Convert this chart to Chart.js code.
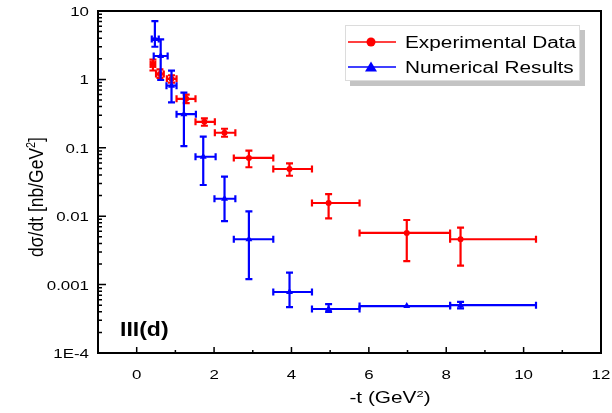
<!DOCTYPE html>
<html>
<head>
<meta charset="utf-8">
<script src="https://cdn.jsdelivr.net/npm/chart.js@4.4.0/dist/chart.umd.min.js"></script>
<style>
  html, body { margin: 0; padding: 0; background: #fff; }
  #wrap { width: 612px; height: 413px; }
</style>
</head>
<body>
<div id="wrap"><canvas id="c" width="612" height="413"></canvas></div>
<script>
// experimental points: -t bins (GeV^2) and dsigma/dt (nb/GeV^2)
const tExp     = [0.42, 0.60, 0.90, 1.28, 1.75, 2.27, 2.90, 3.95, 4.96, 6.98, 8.37];
const tExpLo   = [0.36, 0.50, 0.78, 1.03, 1.52, 2.02, 2.51, 3.53, 4.53, 5.76, 8.10];
const tExpHi   = [0.48, 0.70, 1.03, 1.52, 2.02, 2.55, 3.53, 4.53, 5.76, 8.10, 10.32];
const sigExp   = [1.65, 1.20, 1.02, 0.52, 0.24, 0.166, 0.071, 0.049, 0.0156, 0.0057, 0.0046];
const sigExpLo = [1.35, 1.05, 0.90, 0.45, 0.21, 0.145, 0.052, 0.039, 0.0093, 0.0022, 0.0019];
const sigExpHi = [1.95, 1.40, 1.15, 0.60, 0.27, 0.19, 0.091, 0.059, 0.021, 0.0088, 0.0068];

// numerical results on the same bins
const tNum     = [0.47, 0.62, 0.90, 1.22, 1.72, 2.27, 2.90, 3.95, 4.96, 6.98, 8.37];
const tNumLo   = [0.39, 0.44, 0.77, 1.03, 1.52, 2.01, 2.51, 3.53, 4.53, 5.76, 8.10];
const tNumHi   = [0.57, 0.80, 1.03, 1.53, 2.04, 2.55, 3.53, 4.53, 5.76, 8.10, 10.32];
const sigNum   = [3.9, 2.2, 0.81, 0.31, 0.074, 0.018, 0.0046, 0.00078, 0.00044, 0.000486, 0.0005];
const sigNumLo = [3.0, 0.98, 0.46, 0.106, 0.0286, 0.0085, 0.0012, 0.00047, 0.00040, 0.000486, 0.00045];
const sigNumHi = [7.1, 3.85, 1.34, 0.64, 0.146, 0.038, 0.0118, 0.0015, 0.00052, 0.000486, 0.00056];

const xTicks = [0, 2, 4, 6, 8, 10, 12];
const yTicks = [1e-4, 0.001, 0.01, 0.1, 1, 10];
const yTickLabels = ['1E-4', '0.001', '0.01', '0.1', '1', '10'];

const seriesNames = ['Experimental Data', 'Numerical Results'];
const RED = '#ff0000', BLUE = '#0000ff';
const FONT = '"Liberation Sans", Arial, sans-serif';

function points(x, xl, xh, y, yl, yh) {
  return x.map((v, i) => ({ x: v, y: y[i], xMin: xl[i], xMax: xh[i], yMin: yl[i], yMax: yh[i] }));
}

// text drawn with a horizontal stretch; parts may carry superscripts
function richText(ctx, parts, x, y, size, sx, align, bold) {
  ctx.save();
  ctx.translate(x, y);
  ctx.scale(sx, 1);
  ctx.fillStyle = '#000';
  ctx.textBaseline = 'alphabetic';
  ctx.textAlign = 'left';
  const w = parts.reduce((s, p) => {
    ctx.font = (bold ? 'bold ' : '') + (p.sup ? size * 0.62 : size) + 'px ' + FONT;
    return s + ctx.measureText(p.t).width;
  }, 0);
  let cx = align === 'center' ? -w / 2 : align === 'right' ? -w : 0;
  parts.forEach(p => {
    ctx.font = (bold ? 'bold ' : '') + (p.sup ? size * 0.62 : size) + 'px ' + FONT;
    ctx.fillText(p.t, cx, p.sup ? -size * 0.4 : 0);
    cx += ctx.measureText(p.t).width;
  });
  ctx.restore();
}

const errorBars = {
  id: 'errorBars',
  beforeDatasetDraw(chart, args) {
    const ctx = chart.ctx, xs = chart.scales.x, ys = chart.scales.y;
    const ds = chart.data.datasets[args.index];
    const cap = 3.5;
    ctx.save();
    ctx.strokeStyle = ds.borderColor;
    ctx.lineWidth = 2.2;
    ds.data.forEach(d => {
      const px = xs.getPixelForValue(d.x), py = ys.getPixelForValue(d.y);
      const x0 = xs.getPixelForValue(d.xMin), x1 = xs.getPixelForValue(d.xMax);
      const y0 = ys.getPixelForValue(d.yMin), y1 = ys.getPixelForValue(d.yMax);
      ctx.beginPath();
      ctx.moveTo(x0, py); ctx.lineTo(x1, py);
      ctx.moveTo(x0, py - cap); ctx.lineTo(x0, py + cap);
      ctx.moveTo(x1, py - cap); ctx.lineTo(x1, py + cap);
      if (Math.abs(y0 - y1) > 1) {
        ctx.moveTo(px, y0); ctx.lineTo(px, y1);
        ctx.moveTo(px - cap, y0); ctx.lineTo(px + cap, y0);
        ctx.moveTo(px - cap, y1); ctx.lineTo(px + cap, y1);
      }
      ctx.stroke();
    });
    ctx.restore();
  }
};

const decor = {
  id: 'decor',
  afterDraw(chart) {
    const ctx = chart.ctx, a = chart.chartArea;
    const xs = chart.scales.x, ys = chart.scales.y;
    ctx.save();
    ctx.strokeStyle = '#000';
    ctx.lineWidth = 2;
    ctx.strokeRect(a.left, a.top, a.right - a.left, a.bottom - a.top);

    // inward ticks
    ctx.lineWidth = 1.5;
    ctx.beginPath();
    xs.ticks.forEach(t => {
      const px = xs.getPixelForValue(t.value);
      ctx.moveTo(px, a.bottom); ctx.lineTo(px, a.bottom - 6);
      const m = xs.getPixelForValue(t.value - 1);
      if (m > a.left + 1) { ctx.moveTo(m, a.bottom); ctx.lineTo(m, a.bottom - 3); }
    });
    ys.ticks.forEach(t => {
      const py = ys.getPixelForValue(t.value);
      ctx.moveTo(a.left, py); ctx.lineTo(a.left + 8, py);
      if (t.value < 10) {
        for (let k = 2; k <= 9; k++) {
          const my = ys.getPixelForValue(t.value * k);
          ctx.moveTo(a.left, my); ctx.lineTo(a.left + 4, my);
        }
      }
    });
    ctx.stroke();

    // tick labels
    xs.ticks.forEach(t => {
      richText(ctx, [{ t: String(t.value) }], xs.getPixelForValue(t.value), 379, 13.5, 1.25, 'center');
    });
    ys.ticks.forEach((t, i) => {
      richText(ctx, [{ t: yTickLabels[i] }], 89, ys.getPixelForValue(t.value) + 5, 13.5, 1.25, 'right');
    });

    // axis titles
    richText(ctx, [{ t: '-t (GeV' }, { t: '2', sup: true }, { t: ')' }], 390, 403, 16, 1.3, 'center');
    ctx.save();
    ctx.translate(43, 197);
    ctx.rotate(-Math.PI / 2);
    ctx.scale(1, 1.15);
    richText(ctx, [{ t: 'd\u03c3/dt [nb/GeV' }, { t: '2', sup: true }, { t: ']' }], 0, 0, 17.5, 1, 'center');
    ctx.restore();

    // panel tag
    richText(ctx, [{ t: 'III(d)' }], 120, 336, 20, 1.15, 'left', true);

    // legend with drop shadow
    const lx = 345, ly = 25, lw = 235, lh = 56;
    ctx.fillStyle = '#c4c4c4';
    ctx.fillRect(lx + 5, ly + 5, lw, lh);
    ctx.fillStyle = '#fff';
    ctx.fillRect(lx, ly, lw, lh);
    ctx.strokeStyle = '#dcdcdc';
    ctx.lineWidth = 1;
    ctx.strokeRect(lx + 0.5, ly + 0.5, lw - 1, lh - 1);
    chart.data.datasets.forEach((ds, i) => {
      const ry = [42, 67][i];
      ctx.strokeStyle = ds.borderColor;
      ctx.lineWidth = 1.5;
      ctx.beginPath();
      ctx.moveTo(348, ry); ctx.lineTo(396, ry);
      ctx.stroke();
      ctx.fillStyle = ds.borderColor;
      ctx.beginPath();
      if (ds.pointStyle === 'circle') {
        ctx.arc(371, ry, 4.5, 0, Math.PI * 2);
      } else {
        ctx.moveTo(371, ry - 5.5); ctx.lineTo(377, ry + 4.5); ctx.lineTo(365, ry + 4.5); ctx.closePath();
      }
      ctx.fill();
      richText(ctx, [{ t: ds.label }], 405, ry + 6, 16, 1.3, 'left');
    });
    ctx.restore();
  }
};

new Chart(document.getElementById('c'), {
  type: 'scatter',
  data: {
    datasets: [
      {
        label: seriesNames[0],
        data: points(tExp, tExpLo, tExpHi, sigExp, sigExpLo, sigExpHi),
        borderColor: RED, backgroundColor: RED,
        pointStyle: 'circle', pointRadius: 3, pointBorderWidth: 0,
        order: 1
      },
      {
        label: seriesNames[1],
        data: points(tNum, tNumLo, tNumHi, sigNum, sigNumLo, sigNumHi),
        borderColor: BLUE, backgroundColor: BLUE,
        pointStyle: 'triangle', pointRadius: 4, pointBorderWidth: 0,
        order: 0
      }
    ]
  },
  options: {
    responsive: false,
    animation: false,
    devicePixelRatio: 1,
    layout: { padding: { top: 11, right: 11, left: 0, bottom: 0 } },
    plugins: { legend: { display: false }, tooltip: { enabled: false } },
    scales: {
      x: {
        type: 'linear', min: -1, max: 12,
        grid: { display: false, drawTicks: false },
        border: { display: false },
        ticks: { display: false },
        afterBuildTicks: s => { s.ticks = xTicks.map(v => ({ value: v })); },
        afterFit: s => { s.height = 60; }
      },
      y: {
        type: 'logarithmic', min: 1e-4, max: 10,
        grid: { display: false, drawTicks: false },
        border: { display: false },
        ticks: { display: false },
        afterBuildTicks: s => { s.ticks = yTicks.map(v => ({ value: v })); },
        afterFit: s => { s.width = 98; }
      }
    }
  },
  plugins: [errorBars, decor]
});
</script>
</body>
</html>
